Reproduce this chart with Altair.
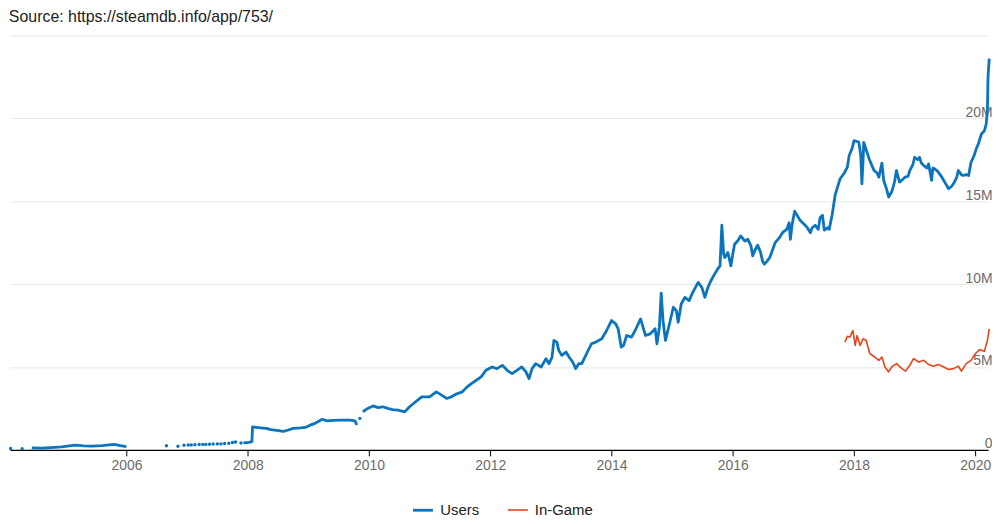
import pandas as pd
import altair as alt

# Users, in millions (gaps in the record split the line)
users_a_year = [2004.44, 2004.60, 2004.75, 2004.93, 2005.15, 2005.30, 2005.43, 2005.60,
                2005.80, 2005.90, 2006.00]
users_a_val = [0.12, 0.10, 0.14, 0.18, 0.28, 0.24, 0.22, 0.26,
               0.33, 0.25, 0.20]

users_b_year = [2007.93, 2008.02, 2008.07, 2008.08, 2008.15, 2008.21, 2008.31, 2008.38,
                2008.48, 2008.59, 2008.67, 2008.75, 2008.87, 2008.95, 2009.03, 2009.11,
                2009.23, 2009.31, 2009.41, 2009.52, 2009.69, 2009.77, 2009.80]
users_b_val = [0.42, 0.45, 0.50, 1.39, 1.35, 1.33, 1.30, 1.22,
               1.18, 1.12, 1.20, 1.30, 1.32, 1.35, 1.49, 1.60,
               1.85, 1.75, 1.78, 1.80, 1.80, 1.75, 1.50]

users_c_year = [2009.90, 2009.98, 2010.07, 2010.15, 2010.23, 2010.31, 2010.39, 2010.48,
                2010.59, 2010.67, 2010.77, 2010.87, 2011.00, 2011.11, 2011.20, 2011.28,
                2011.36, 2011.44, 2011.54, 2011.62, 2011.69, 2011.77, 2011.85, 2011.93,
                2012.03, 2012.11, 2012.20, 2012.28, 2012.36, 2012.44, 2012.52, 2012.59,
                2012.64, 2012.69, 2012.75, 2012.84, 2012.92, 2012.97, 2013.02, 2013.05,
                2013.10, 2013.13, 2013.18, 2013.25, 2013.30, 2013.36, 2013.41, 2013.46,
                2013.51, 2013.59, 2013.67, 2013.74, 2013.84, 2013.92, 2014.00, 2014.07,
                2014.11, 2014.16, 2014.20, 2014.25, 2014.33, 2014.39, 2014.48, 2014.52,
                2014.56, 2014.64, 2014.72, 2014.75, 2014.79, 2014.82, 2014.85, 2014.89,
                2014.95, 2015.02, 2015.07, 2015.10, 2015.15, 2015.21, 2015.28, 2015.34,
                2015.43, 2015.49, 2015.54, 2015.59, 2015.64, 2015.70, 2015.75, 2015.79,
                2015.82, 2015.85, 2015.87, 2015.92, 2015.97, 2016.00, 2016.03, 2016.08,
                2016.13, 2016.20, 2016.25, 2016.30, 2016.33, 2016.36, 2016.41, 2016.46,
                2016.49, 2016.52, 2016.57, 2016.61, 2016.66, 2016.70, 2016.77, 2016.82,
                2016.89, 2016.93, 2016.95, 2016.98, 2017.02, 2017.07, 2017.11, 2017.18,
                2017.23, 2017.28, 2017.31, 2017.36, 2017.41, 2017.44, 2017.48, 2017.51,
                2017.56, 2017.59, 2017.64, 2017.69, 2017.77, 2017.84, 2017.89, 2017.92,
                2017.97, 2018.00, 2018.05, 2018.08, 2018.11, 2018.13, 2018.15, 2018.16,
                2018.21, 2018.25, 2018.30, 2018.33, 2018.38, 2018.41, 2018.46, 2018.49,
                2018.54, 2018.57, 2018.62, 2018.67, 2018.70, 2018.75, 2018.80, 2018.84,
                2018.89, 2018.92, 2018.97, 2019.00, 2019.05, 2019.08, 2019.11, 2019.15,
                2019.20, 2019.23, 2019.28, 2019.30, 2019.33, 2019.38, 2019.41, 2019.44,
                2019.48, 2019.52, 2019.56, 2019.61, 2019.64, 2019.69, 2019.72, 2019.77,
                2019.80, 2019.85, 2019.89, 2019.93, 2019.98, 2020.02, 2020.05, 2020.10,
                2020.15, 2020.18, 2020.20, 2020.21, 2020.23]
users_c_val = [2.30, 2.50, 2.65, 2.55, 2.60, 2.50, 2.43, 2.40,
               2.29, 2.60, 2.90, 3.20, 3.20, 3.50, 3.30, 3.10,
               3.20, 3.37, 3.50, 3.80, 4.00, 4.20, 4.40, 4.80,
               5.00, 4.90, 5.10, 4.80, 4.60, 4.80, 5.00, 4.70,
               4.30, 4.90, 5.20, 5.00, 5.50, 5.20, 5.60, 6.60,
               6.50, 6.00, 5.70, 5.90, 5.60, 5.30, 4.90, 5.20,
               5.20, 5.80, 6.40, 6.50, 6.70, 7.20, 7.80, 7.60,
               7.30, 6.20, 6.30, 6.90, 6.80, 7.20, 7.90, 7.40,
               6.90, 7.00, 7.30, 6.40, 7.40, 9.45, 7.80, 6.60,
               7.50, 8.60, 8.40, 7.70, 8.80, 9.20, 9.00, 9.50,
               10.10, 9.80, 9.20, 9.80, 10.20, 10.60, 10.90, 11.10,
               13.55, 11.80, 11.60, 11.90, 11.10, 11.80, 12.40, 12.60,
               12.90, 12.60, 12.70, 12.30, 11.70, 12.00, 12.35, 11.90,
               11.40, 11.20, 11.40, 11.60, 12.10, 12.50, 12.80, 13.10,
               13.30, 13.70, 12.70, 13.60, 14.40, 14.10, 13.85, 13.60,
               13.40, 13.10, 13.40, 13.55, 13.30, 14.00, 14.15, 13.25,
               13.40, 13.30, 14.20, 15.40, 16.35, 16.70, 17.05, 17.75,
               18.20, 18.65, 18.60, 18.55, 17.80, 16.05, 17.50, 18.55,
               18.00, 17.55, 17.10, 16.85, 16.70, 16.45, 17.30, 16.25,
               15.70, 15.25, 15.55, 16.20, 16.85, 16.15, 16.30, 16.45,
               16.50, 16.85, 17.20, 17.65, 17.50, 17.65, 17.30, 17.15,
               17.00, 17.25, 16.25, 17.00, 16.95, 16.80, 16.65, 16.50,
               16.25, 16.00, 15.75, 15.90, 16.05, 16.40, 16.85, 16.60,
               16.55, 16.60, 16.55, 17.35, 17.75, 18.20, 18.45, 19.05,
               19.25, 19.65, 20.50, 22.50, 23.60]

# isolated samples drawn as dots
users_dot_year = [2004.09, 2004.28, 2006.66, 2006.85, 2006.95, 2007.02, 2007.07, 2007.13,
                  2007.20, 2007.26, 2007.31, 2007.37, 2007.43, 2007.50, 2007.56, 2007.62,
                  2007.69, 2007.75, 2007.80, 2007.89, 2009.85]
users_dot_val = [0.08, 0.07, 0.25, 0.22, 0.28, 0.29, 0.30, 0.31,
                 0.32, 0.33, 0.33, 0.34, 0.35, 0.36, 0.36, 0.38,
                 0.40, 0.44, 0.48, 0.42, 1.90]

ingame_year = [2017.85, 2017.89, 2017.93, 2017.98, 2018.02, 2018.05, 2018.10, 2018.15,
               2018.20, 2018.26, 2018.34, 2018.41, 2018.46, 2018.51, 2018.57, 2018.62,
               2018.70, 2018.79, 2018.85, 2018.92, 2018.98, 2019.07, 2019.15, 2019.23,
               2019.31, 2019.39, 2019.48, 2019.56, 2019.64, 2019.72, 2019.77, 2019.85,
               2019.93, 2020.00, 2020.07, 2020.15, 2020.20, 2020.23]
ingame_val = [6.50, 6.85, 6.80, 7.20, 6.30, 6.90, 6.30, 6.70,
              6.60, 5.80, 5.60, 5.40, 5.60, 5.00, 4.70, 5.00,
              5.20, 4.90, 4.75, 5.10, 5.50, 5.30, 5.40, 5.15,
              5.05, 5.15, 5.00, 4.85, 4.90, 5.05, 4.75, 5.20,
              5.40, 5.80, 6.05, 5.95, 6.60, 7.30]

series_names = ["Users", "In-Game"]
series_colors = ["#0a74be", "#e8441a"]
year_ticks = [2006, 2008, 2010, 2012, 2014, 2016, 2018, 2020]
value_ticks = [0, 5, 10, 15, 20, 25]

frames = []
for seg, (yrs, vals) in enumerate([(users_a_year, users_a_val),
                                   (users_b_year, users_b_val),
                                   (users_c_year, users_c_val)]):
    frames.append(pd.DataFrame({"year": yrs, "value": vals, "series": "Users", "seg": f"u{seg}"}))
frames.append(pd.DataFrame({"year": ingame_year, "value": ingame_val, "series": "In-Game", "seg": "g"}))
lines_df = pd.concat(frames, ignore_index=True)
dots_df = pd.DataFrame({"year": users_dot_year, "value": users_dot_val, "series": "Users"})

FONT = "Liberation Sans"

x_enc = alt.X("year:Q", title=None,
              scale=alt.Scale(domain=[2004.08, 2020.21], nice=False, zero=False),
              axis=alt.Axis(values=year_ticks, format="d", grid=False,
                            domainColor="#000", domainWidth=1.2, tickColor="#000",
                            tickSize=6, labelColor="#6b6b6b", labelFontSize=14,
                            labelPadding=3, labelFont=FONT))
y_enc = alt.Y("value:Q", title=None,
              scale=alt.Scale(domain=[0, 25], nice=False),
              axis=alt.Axis(orient="right", values=value_ticks, domain=False, ticks=False,
                            gridColor="#e6e6e6", labelAlign="right", labelBaseline="bottom",
                            labelPadding=4, labelOffset=1, labelColor="#6b6b6b", labelFontSize=14,
                            labelFont=FONT,
                            labelExpr="datum.value == 0 ? '0' : datum.value >= 25 ? '' : datum.value + 'M'"))

lines = alt.Chart(lines_df).mark_line(strokeJoin="round").encode(
    x=x_enc,
    y=y_enc,
    color=alt.Color("series:N", title=None,
                    scale=alt.Scale(domain=series_names, range=series_colors),
                    legend=alt.Legend(orient="none", legendX=404, legendY=466,
                                      direction="horizontal", symbolType="stroke",
                                      symbolSize=400, symbolStrokeWidth=2.5,
                                      labelFontSize=15, labelColor="#222", labelFont=FONT,
                                      labelOffset=6, columnPadding=24)),
    strokeWidth=alt.StrokeWidth("series:N", scale=alt.Scale(domain=series_names, range=[2.8, 1.6]),
                                legend=None),
    detail="seg:N",
)

dots = alt.Chart(dots_df).mark_circle(size=12, opacity=1, color=series_colors[0]).encode(
    x="year:Q",
    y="value:Q",
)

chart = alt.layer(lines, dots).properties(
    width=984,
    height=417,
    padding={"left": 0, "right": 0, "top": 0, "bottom": 0},
    title=alt.TitleParams("Source: https://steamdb.info/app/753/", anchor="start",
                          fontSize=16, fontWeight="normal", color="#222", font=FONT,
                          offset=10),
).configure_view(
    strokeWidth=0
)

chart.save("out.html", embed_options={"renderer": "svg", "actions": False})
